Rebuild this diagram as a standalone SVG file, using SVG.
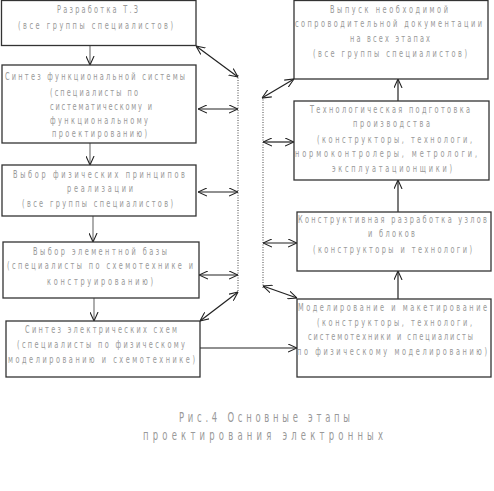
<svg xmlns="http://www.w3.org/2000/svg" width="494" height="491" viewBox="0 0 494 491">
<style>
.box{fill:#fff;stroke:#333;stroke-width:1.3}
.t{font-family:"DejaVu Sans","Liberation Sans",sans-serif;font-size:10.5px;fill:#999}
.cap{font-family:"DejaVu Sans","Liberation Sans",sans-serif;font-size:13.5px;fill:#999}
.c{stroke:#222;stroke-width:1.2;fill:none}
.g{stroke:#777;stroke-width:1.2;fill:none}
.d{stroke:#444;stroke-width:1;stroke-dasharray:1,1.5;fill:none}
</style>
<defs>
<marker id="ah" viewBox="0 0 10 10" refX="10" refY="5" markerWidth="9" markerHeight="9" markerUnits="userSpaceOnUse" orient="auto-start-reverse">
<path d="M0,0.5 L10,5 L0,9.5" fill="none" stroke="#222" stroke-width="1.2"/>
</marker>
</defs>
<rect width="494" height="491" fill="#fff"/>
<g id="connectors">
<line class="g" x1="90" y1="45" x2="90" y2="65" marker-end="url(#ah)"/>
<line class="g" x1="90" y1="143" x2="90" y2="165" marker-end="url(#ah)"/>
<line class="g" x1="93" y1="216" x2="93" y2="242" marker-end="url(#ah)"/>
<line class="g" x1="94" y1="298" x2="94" y2="321" marker-end="url(#ah)"/>
<line class="c" x1="398" y1="299" x2="398" y2="271" marker-end="url(#ah)"/>
<line class="c" x1="398" y1="212" x2="398" y2="180" marker-end="url(#ah)"/>
<line class="c" x1="398" y1="101" x2="398" y2="79" marker-end="url(#ah)"/>
<line class="c" x1="200" y1="348" x2="297" y2="348" marker-end="url(#ah)"/>
<line class="d" x1="238" y1="75" x2="238" y2="293"/>
<line class="d" x1="263" y1="97" x2="263" y2="289"/>
<line class="c" x1="196" y1="46" x2="238" y2="77" marker-start="url(#ah)" marker-end="url(#ah)"/>
<line class="c" x1="198" y1="109" x2="238" y2="109" marker-start="url(#ah)" marker-end="url(#ah)"/>
<line class="c" x1="198" y1="192" x2="238" y2="192" marker-start="url(#ah)" marker-end="url(#ah)"/>
<line class="c" x1="199" y1="275" x2="238" y2="275" marker-start="url(#ah)" marker-end="url(#ah)"/>
<line class="c" x1="200" y1="321" x2="238" y2="292" marker-start="url(#ah)" marker-end="url(#ah)"/>
<line class="c" x1="262" y1="98" x2="294" y2="79" marker-start="url(#ah)" marker-end="url(#ah)"/>
<line class="c" x1="263" y1="142" x2="294" y2="142" marker-start="url(#ah)" marker-end="url(#ah)"/>
<line class="c" x1="263" y1="243" x2="297" y2="243" marker-start="url(#ah)" marker-end="url(#ah)"/>
<line class="c" x1="263" y1="286" x2="297" y2="298" marker-start="url(#ah)" marker-end="url(#ah)"/>
</g>
<g id="n1">
<rect class="box" x="1.5" y="0.5" width="194.5" height="45"/>
<g transform="scale(0.625,1)">
<text class="t" x="91.2" y="13" textLength="129.6" lengthAdjust="spacing">Разработка Т.З</text>
<text class="t" x="28.8" y="29" textLength="248" lengthAdjust="spacing">(все группы специалистов)</text>
</g>
</g>
<g id="n2">
<rect class="box" x="2" y="65" width="194" height="78"/>
<g transform="scale(0.625,1)">
<text class="t" x="8" y="80" textLength="288" lengthAdjust="spacing">Синтез функциональной системы</text>
<text class="t" x="80" y="96" textLength="140.8" lengthAdjust="spacing">(специалисты по</text>
<text class="t" x="80" y="110" textLength="163.2" lengthAdjust="spacing">систематическому и</text>
<text class="t" x="80" y="124" textLength="156.8" lengthAdjust="spacing">функциональному</text>
<text class="t" x="83.2" y="137" textLength="152" lengthAdjust="spacing">проектированию)</text>
</g>
</g>
<g id="n3">
<rect class="box" x="2" y="165" width="194" height="51"/>
<g transform="scale(0.625,1)">
<text class="t" x="20.8" y="178" textLength="275.2" lengthAdjust="spacing">Выбор физических принципов</text>
<text class="t" x="107.2" y="192" textLength="105.6" lengthAdjust="spacing">реализации</text>
<text class="t" x="35.2" y="207" textLength="241.6" lengthAdjust="spacing">(все группы специалистов)</text>
</g>
</g>
<g id="n4">
<rect class="box" x="3" y="242" width="196" height="56"/>
<g transform="scale(0.625,1)">
<text class="t" x="52.8" y="255" textLength="214.4" lengthAdjust="spacing">Выбор элементной базы</text>
<text class="t" x="11.2" y="269" textLength="297.6" lengthAdjust="spacing">(специалисты по схемотехнике и</text>
<text class="t" x="75.2" y="285" textLength="169.6" lengthAdjust="spacing">конструированию)</text>
</g>
</g>
<g id="n5">
<rect class="box" x="6" y="321" width="194" height="56"/>
<g transform="scale(0.625,1)">
<text class="t" x="40" y="333" textLength="243.2" lengthAdjust="spacing">Синтез электрических схем</text>
<text class="t" x="27.2" y="348" textLength="268.8" lengthAdjust="spacing">(специалисты по физическому</text>
<text class="t" x="12.8" y="363" textLength="299.2" lengthAdjust="spacing">моделированию и схемотехнике)</text>
</g>
</g>
<g id="r1">
<rect class="box" x="294" y="0.5" width="194" height="78.5"/>
<g transform="scale(0.625,1)">
<text class="t" x="528" y="13" textLength="188.8" lengthAdjust="spacing">Выпуск необходимой</text>
<text class="t" x="472" y="27" textLength="299.2" lengthAdjust="spacing">сопроводительной документации</text>
<text class="t" x="560" y="42" textLength="128" lengthAdjust="spacing">на всех этапах</text>
<text class="t" x="500.8" y="57" textLength="246.4" lengthAdjust="spacing">(все группы специалистов)</text>
</g>
</g>
<g id="r2">
<rect class="box" x="294" y="101" width="195" height="79"/>
<g transform="scale(0.625,1)">
<text class="t" x="496" y="113" textLength="256" lengthAdjust="spacing">Технологическая подготовка</text>
<text class="t" x="564.8" y="127" textLength="123.2" lengthAdjust="spacing">производства</text>
<text class="t" x="507.2" y="143" textLength="248" lengthAdjust="spacing">(конструкторы, технологи,</text>
<text class="t" x="472" y="157" textLength="291.2" lengthAdjust="spacing">нормоконтролеры, метрологи,</text>
<text class="t" x="531.2" y="172" textLength="192" lengthAdjust="spacing">эксплуатационщики)</text>
</g>
</g>
<g id="r3">
<rect class="box" x="297" y="212" width="194" height="59"/>
<g transform="scale(0.625,1)">
<text class="t" x="476.8" y="223" textLength="302.4" lengthAdjust="spacing">Конструктивная разработка узлов</text>
<text class="t" x="588.8" y="237" textLength="75.2" lengthAdjust="spacing">и блоков</text>
<text class="t" x="500.8" y="253" textLength="254.4" lengthAdjust="spacing">(конструкторы и технологи)</text>
</g>
</g>
<g id="r4">
<rect class="box" x="297" y="299" width="194" height="78"/>
<g transform="scale(0.625,1)">
<text class="t" x="476.8" y="311" textLength="302.4" lengthAdjust="spacing">Моделирование и макетирование</text>
<text class="t" x="507.2" y="326" textLength="248" lengthAdjust="spacing">(конструкторы, технологи,</text>
<text class="t" x="492.8" y="340" textLength="264" lengthAdjust="spacing">системотехники и специалисты</text>
<text class="t" x="475.2" y="355" textLength="304" lengthAdjust="spacing">по физическому моделированию)</text>
</g>
</g>
<g id="caption">
<g transform="scale(0.625,1)">
<text class="cap" x="286.4" y="422" textLength="273.6" lengthAdjust="spacing">Рис.4 Основные этапы</text>
<text class="cap" x="228.8" y="440" textLength="384" lengthAdjust="spacing">проектирования электронных</text>
</g>
</g>
</svg>
